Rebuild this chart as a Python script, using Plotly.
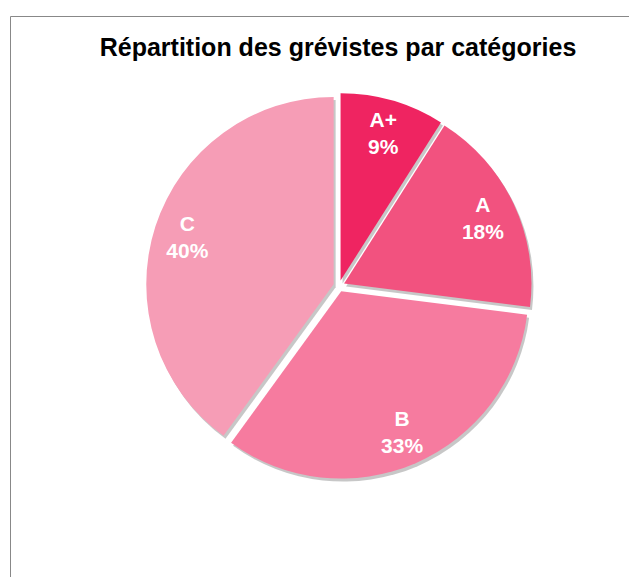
import plotly.graph_objs as go

categories = ['A+', 'A', 'B', 'C']
values = [9, 18, 33, 40]
colors = ['#EF2461', '#F2527F', '#F67B9F', '#F69DB6']

W, H = 637, 577
OFF = 8  # page body margin in the browser
cx, cy, half = 339 - OFF, 286 - OFF, 193
PULL = 0.03

def dom(dx=0, dy=0):
    return dict(x=[(cx - half + dx) / W, (cx + half + dx) / W],
                y=[1 - (cy + half + dy) / H, 1 - (cy - half + dy) / H])

common = dict(labels=categories, values=values, sort=False, direction='clockwise',
              rotation=0, pull=PULL, showlegend=False)

# soft drop shadow under the pie
shadow = go.Pie(**common, domain=dom(2, 3), textinfo='none', hoverinfo='skip',
                marker=dict(colors=['rgba(0,0,0,0.22)'] * 4, line=dict(width=0)))

pie = go.Pie(**common, domain=dom(), textinfo='none',
             marker=dict(colors=colors, line=dict(width=0)))

# transparent ring on top carrying the labels, so they sit near the rim
labels = go.Pie(**common, domain=dom(), hole=0.64, hoverinfo='skip',
                marker=dict(colors=['rgba(0,0,0,0)'] * 4, line=dict(width=0)),
                texttemplate='<b>%{label}<br>%{percent:.0%}</b>',
                textposition='inside', insidetextorientation='horizontal',
                textfont=dict(family='Liberation Sans, Arial', size=21, color='white'))

fig = go.Figure(data=[shadow, pie, labels])

fig.update_layout(
    width=W, height=H,
    margin=dict(l=0, r=0, t=0, b=0),
    paper_bgcolor='white',
    plot_bgcolor='white',
    font=dict(family='Liberation Sans, Arial'),
    uniformtext=dict(minsize=21, mode='show'),
    title=dict(text='<b>Répartition des grévistes par catégories</b>',
               x=(338 - OFF) / W, xanchor='center', y=1 - (47 - OFF) / H, yanchor='middle',
               font=dict(size=25, color='black')),
    shapes=[
        dict(type='line', xref='paper', yref='paper', x0=(10.5 - OFF) / W, x1=1,
             y0=1 - (16.5 - OFF) / H, y1=1 - (16.5 - OFF) / H,
             line=dict(color='#888888', width=1)),
        dict(type='line', xref='paper', yref='paper', x0=(10.5 - OFF) / W, x1=(10.5 - OFF) / W,
             y0=0, y1=1 - (16.5 - OFF) / H, line=dict(color='#888888', width=1)),
    ],
)

fig.write_html('out.html')
